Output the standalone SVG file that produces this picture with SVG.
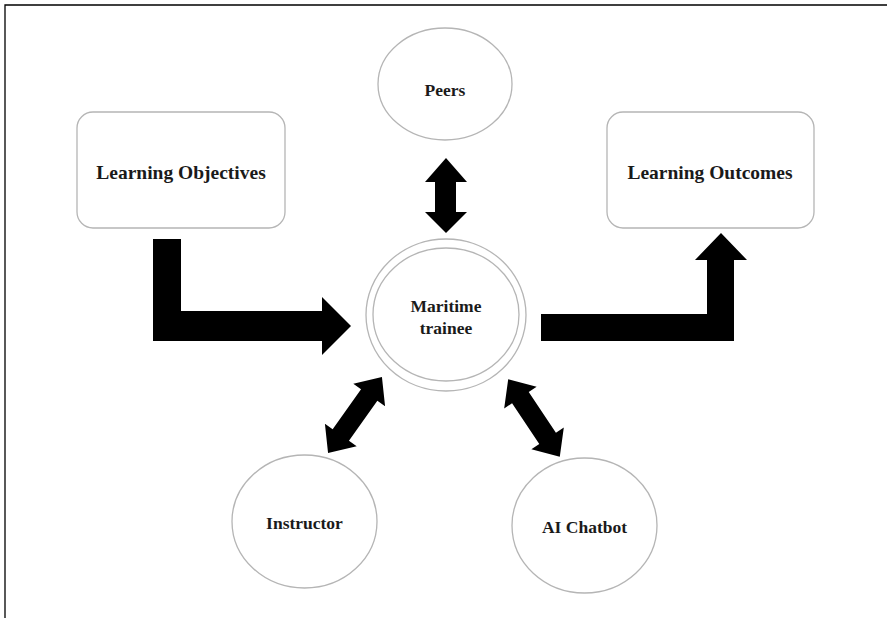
<svg xmlns="http://www.w3.org/2000/svg" width="887" height="618" viewBox="0 0 887 618">
<style>
.node{fill:#fff;stroke:#b5b5b5;stroke-width:1.3}
.lbl{font-family:"Liberation Serif","Times New Roman",serif;font-weight:bold;fill:#1a1a1a;text-anchor:middle}
.s{font-size:17.5px}
.b{font-size:19.5px}
.arr{fill:#000}
</style>
<defs>
<path id="dbl" d="M-46.5,0 L-24.5,-19.5 L-24.5,-10 L24.5,-10 L24.5,-19.5 L46.5,0 L24.5,19.5 L24.5,10 L-24.5,10 L-24.5,19.5 Z"/>
</defs>
<rect width="887" height="618" fill="#fff"/>
<path d="M5,618 L5,5 L887,5" fill="none" stroke="#000" stroke-width="1.3"/>
<g id="connectors">
<polygon class="arr" points="153,239 181,239 181,311 322,311 322,297 351,326 322,355 322,341 153,341"/>
<polygon class="arr" points="541,314 707,314 707,260 695,260 721,233 747,260 734,260 734,341 541,341"/>
<polygon class="arr" points="446,158 467,182 456,182 456,212 467,212 446,233 425,212 435,212 435,182 425,182"/>
<use href="#dbl" class="arr" transform="translate(355,415) rotate(-54.6)"/>
<use href="#dbl" class="arr" transform="translate(534,418) rotate(56.3)"/>
</g>
<g id="objectives">
<rect class="node" x="77" y="112" width="208" height="116" rx="16"/>
<text class="lbl b" x="181" y="179">Learning Objectives</text>
</g>
<g id="outcomes">
<rect class="node" x="607" y="112" width="207" height="116" rx="16"/>
<text class="lbl b" x="710" y="179">Learning Outcomes</text>
</g>
<g id="peers">
<ellipse class="node" cx="445" cy="84" rx="67" ry="56"/>
<text class="lbl s" x="445" y="96">Peers</text>
</g>
<g id="trainee">
<ellipse class="node" cx="446" cy="315" rx="80" ry="76"/>
<ellipse class="node" cx="446" cy="314.5" rx="73" ry="66.5"/>
<text class="lbl s" x="446" y="312">Maritime</text>
<text class="lbl s" x="446" y="334">trainee</text>
</g>
<g id="instructor">
<ellipse class="node" cx="304.5" cy="521.5" rx="72.5" ry="66.5"/>
<text class="lbl s" x="304.5" y="529">Instructor</text>
</g>
<g id="chatbot">
<ellipse class="node" cx="584.5" cy="525.5" rx="72.5" ry="67.5"/>
<text class="lbl s" x="584.5" y="533">AI Chatbot</text>
</g>
</svg>
